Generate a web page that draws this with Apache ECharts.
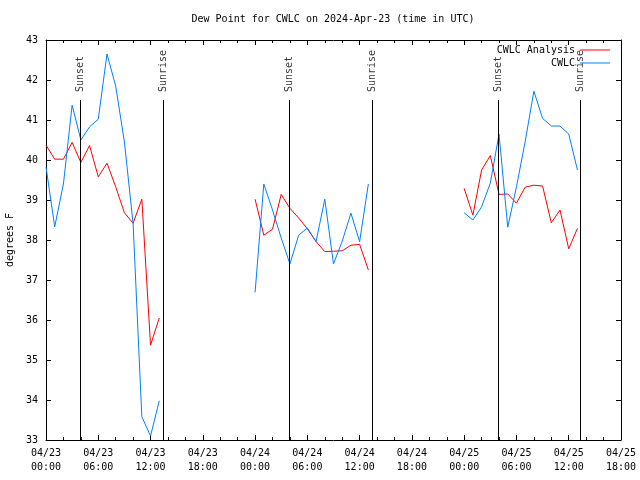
<!DOCTYPE html>
<html><head><meta charset="utf-8">
<script src="https://cdn.jsdelivr.net/npm/echarts@6/dist/echarts.min.js"></script>
<style>html,body{margin:0;padding:0;background:#fff}#c{width:640px;height:480px}</style>
</head><body><div id="c"></div>
<script>
// ---- data ----
const days = ["2024-04-23", "2024-04-24", "2024-04-25"];
const obsHours = ["00", "01", "02", "03", "04", "05", "06", "07", "08", "09", "10", "11", "12", "13"];
const analysisDay1 = [40.37, 40.02, 40.02, 40.44, 39.94, 40.36, 39.58, 39.92, 39.33, 38.68, 38.42, 39.02, 35.37, 36.05];
const analysisDay2 = [39.02, 38.12, 38.27, 39.14, 38.79, 38.55, 38.28, 37.96, 37.71, 37.72, 37.73, 37.87, 37.89, 37.25];
const analysisDay3 = [39.29, 38.62, 39.75, 40.11, 39.14, 39.15, 38.92, 39.32, 39.37, 39.35, 38.43, 38.75, 37.78, 38.29];
const obsDay1 = [39.83, 38.33, 39.40, 41.37, 40.50, 40.83, 41.02, 42.65, 41.85, 40.45, 38.40, 33.58, 33.10, 33.98];
const obsDay2 = [36.69, 39.40, 38.75, 38.05, 37.40, 38.12, 38.30, 37.96, 39.02, 37.40, 37.97, 38.67, 37.96, 39.40];
const obsDay3 = [38.68, 38.50, 38.83, 39.42, 40.65, 38.32, 39.33, 40.46, 41.72, 41.04, 40.85, 40.85, 40.65, 39.75];
const sunsets = ["2024-04-23T03:56Z", "2024-04-24T03:56Z", "2024-04-25T03:58Z"];
const sunrises = ["2024-04-23T13:28Z", "2024-04-24T13:27Z", "2024-04-25T13:21Z"];
const xTickLabels = ["04/23\n00:00", "04/23\n06:00", "04/23\n12:00", "04/23\n18:00",
  "04/24\n00:00", "04/24\n06:00", "04/24\n12:00", "04/24\n18:00",
  "04/25\n00:00", "04/25\n06:00", "04/25\n12:00", "04/25\n18:00"];
const xStart = "2024-04-23T00:00Z";
const xEnd = "2024-04-25T18:00Z";
const yMin = 33, yMax = 43;
const markerTop = 41.5;
const seriesNames = ["CWLC Analysis", "CWLC"];
const titleText = "Dew Point for CWLC on 2024-Apr-23 (time in UTC)";
const yName = "degrees F";

// ---- build ----
const H = 3600 * 1000;
const tMin = Date.parse(xStart), tMax = Date.parse(xEnd);
function build(dayVals) {
  const out = [];
  dayVals.forEach((vals, d) => {
    let last = null;
    vals.forEach((v, i) => {
      last = Date.parse(days[d] + "T" + obsHours[i] + ":00Z");
      out.push([last, v]);
    });
    out.push([last + H, '-']);
  });
  return out;
}
const FONT = "DejaVu Sans Mono";
const txt = { fontFamily: FONT, fontSize: 10, color: "#000" };
const markerData = [];
sunsets.forEach(t => markerData.push({ value: [Date.parse(t), markerTop], label: { formatter: "Sunset" } }));
sunrises.forEach(t => markerData.push({ value: [Date.parse(t), markerTop], label: { formatter: "Sunrise" } }));
const markLines = markerData.map(m => [{ coord: [m.value[0], yMin] }, { coord: [m.value[0], markerTop] }]);

const axisCommonX = {
  type: "value", min: tMin, max: tMax, interval: 6 * H,
  axisLine: { lineStyle: { color: "#000", width: 1 } },
  axisTick: { inside: true, length: 5, lineStyle: { color: "#000" } },
  minorTick: { show: true, splitNumber: 3, length: 3, lineStyle: { color: "#000" } },
  splitLine: { show: false }, minorSplitLine: { show: false }
};
const axisCommonY = {
  type: "value", min: yMin, max: yMax, interval: 1,
  axisLine: { show: true, lineStyle: { color: "#000", width: 1 } },
  axisTick: { show: true, inside: true, length: 5, lineStyle: { color: "#000" } },
  splitLine: { show: false }
};
const legendCommon = { right: 30, itemWidth: 30, itemHeight: 1, icon: "rect", align: "right", padding: 0,
  textStyle: txt, selectedMode: false };
const chart = echarts.init(document.getElementById("c"), null, { renderer: "canvas" });
chart.setOption({
  animation: false,
  backgroundColor: "#fff",
  title: { text: titleText, left: 333, textAlign: "center", top: 14, padding: 0,
    textStyle: Object.assign({ fontWeight: "normal" }, txt) },
  grid: { left: 46, right: 19, top: 40, bottom: 40, containLabel: false, outerBoundsMode: "none" },
  legend: [
    Object.assign({ data: [seriesNames[0]], top: 45 }, legendCommon),
    Object.assign({ data: [seriesNames[1]], top: 58 }, legendCommon)
  ],
  xAxis: [
    Object.assign({}, axisCommonX, {
      position: "bottom",
      axisLabel: { fontFamily: FONT, fontSize: 10, color: "#000", lineHeight: 14, margin: 6,
        formatter: v => xTickLabels[Math.round((v - tMin) / (6 * H))] }
    }),
    Object.assign({}, axisCommonX, { position: "top", axisLabel: { show: false } })
  ],
  yAxis: [
    Object.assign({}, axisCommonY, {
      position: "left", name: yName, nameLocation: "middle", nameRotate: 90, nameGap: 31,
      nameTextStyle: txt,
      axisLabel: { fontFamily: FONT, fontSize: 10, color: "#000", margin: 8 }
    }),
    Object.assign({}, axisCommonY, { position: "right", axisLabel: { show: false } })
  ],
  series: [
    { name: seriesNames[0], type: "line", data: build([analysisDay1, analysisDay2, analysisDay3]),
      symbol: "none", connectNulls: false, lineStyle: { color: "#ff0000", width: 1 }, itemStyle: { color: "#ff0000" } },
    { name: seriesNames[1], type: "line", data: build([obsDay1, obsDay2, obsDay3]),
      symbol: "none", connectNulls: false, lineStyle: { color: "#0080ff", width: 1 }, itemStyle: { color: "#0080ff" } },
    { name: "markers", type: "scatter", data: markerData, symbolSize: 0, silent: true,
      label: { show: true, position: "top", distance: 8, rotate: 90, align: "left", verticalAlign: "middle",
        fontFamily: FONT, fontSize: 10, color: "#000" },
      markLine: { silent: true, symbol: ["none", "none"], label: { show: false },
        lineStyle: { color: "#000", width: 1, type: "solid" }, data: markLines } }
  ]
});
</script>
</body></html>
